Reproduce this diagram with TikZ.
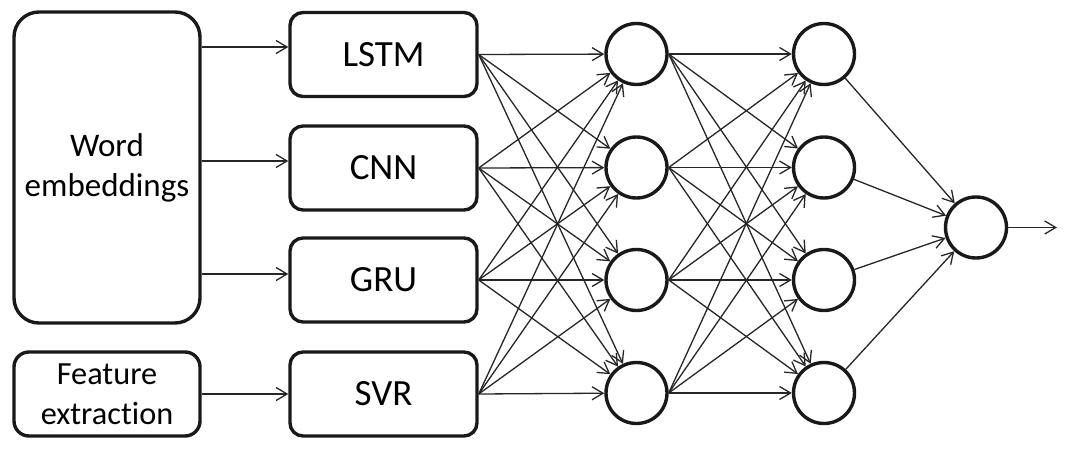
\documentclass[tikz,border=0pt]{standalone}
\usepackage{fontspec}
\setmainfont{Carlito}[Ligatures={NoCommon}]
\usetikzlibrary{arrows.meta}
\begin{document}
\begin{tikzpicture}[x=1pt,y=-1pt,
  box/.style={draw=black!90, line width=3.4pt, rounded corners=13pt, minimum width=187pt, minimum height=84pt, inner sep=0pt, font=\fontsize{37}{40}\selectfont},
  srcbox/.style={draw=black!90, line width=3.4pt, minimum width=186pt, inner sep=0pt, align=center},
  neuron/.style={draw=black!90, circle, line width=3.4pt, minimum size=61pt, inner sep=0pt},
  conn/.style={draw=black!85, line width=1.3pt, -{Straight Barb[length=11pt,width=13pt,line width=1.3pt]}}]
\useasboundingbox (0,0) rectangle (1067,454);
% inputs
\node[srcbox, rounded corners=25pt, minimum height=311pt, font=\fontsize{33}{40}\selectfont] (we) at (107,167.5) {Word\\embeddings};
\node[srcbox, rounded corners=15pt, minimum height=84pt, font=\fontsize{32.3}{40}\selectfont] (fe) at (107,394) {Feature\\extraction};
% models
\node[box] (m1) at (383.5,54.5) {LSTM};
\node[box] (m2) at (383.5,168) {CNN};
\node[box] (m3) at (383.5,280) {GRU};
\node[box] (m4) at (383.5,394) {SVR};
% hidden layers
\foreach \i/\y in {1/54,2/167.5,3/280,4/393} {
  \node[neuron] (h\i) at (636.5,\y) {};
  \node[neuron] (g\i) at (824,\y) {};
}
\node[neuron] (o) at (976,227.5) {};
\coordinate (oend) at (1057,227.5);
% connectors
\draw[conn] ([yshift=7.5pt]m1.west -| we.east) -- ([yshift=7.5pt]m1.west);
\draw[conn] ([yshift=7pt]m2.west -| we.east) -- ([yshift=7pt]m2.west);
\draw[conn] ([yshift=6pt]m3.west -| we.east) -- ([yshift=6pt]m3.west);
\draw[conn] (fe.east) -- (m4.west);
\foreach \i in {1,...,4} {
  \foreach \j in {1,...,4} {
    \draw[conn] (m\i.east) -- (h\j);
    \draw[conn] (h\i.east) -- (g\j);
  }
  \draw[conn] (g\i) -- (o);
}
\draw[conn] (o) -- (oend);
\end{tikzpicture}
\end{document}
